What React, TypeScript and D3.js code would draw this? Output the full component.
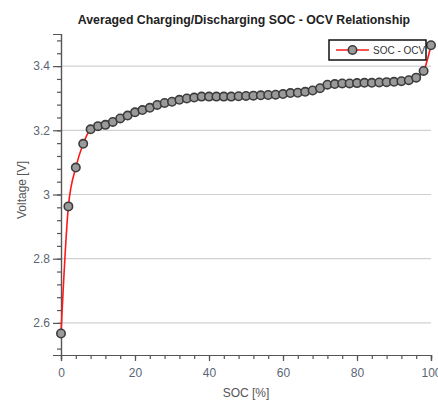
import React, { useEffect, useRef } from "react";
import * as d3 from "d3";

// SOC in %, OCV in V
const socValues = [
  0, 2, 4, 6, 8, 10, 12, 14, 16, 18, 20, 22, 24, 26, 28, 30, 32, 34, 36, 38, 40,
  42, 44, 46, 48, 50, 52, 54, 56, 58, 60, 62, 64, 66, 68, 70, 72, 74, 76, 78, 80,
  82, 84, 86, 88, 90, 92, 94, 96, 98, 100,
];
const ocvValues = [
  2.567, 2.963, 3.084, 3.158, 3.203, 3.213, 3.217, 3.226, 3.237, 3.246, 3.256,
  3.263, 3.27, 3.279, 3.285, 3.289, 3.295, 3.299, 3.302, 3.305, 3.305, 3.305,
  3.305, 3.305, 3.306, 3.307, 3.308, 3.309, 3.31, 3.311, 3.313, 3.316, 3.317,
  3.32, 3.324, 3.331, 3.342, 3.344, 3.346, 3.346, 3.347, 3.348, 3.348, 3.349,
  3.35, 3.351, 3.353, 3.356, 3.364, 3.385, 3.465,
];
const xTicks = [0, 20, 40, 60, 80, 100];
const yTicks = [2.6, 2.8, 3.0, 3.2, 3.4];
const seriesName = "SOC - OCV";
const chartTitle = "Averaged Charging/Discharging SOC - OCV Relationship";
const xLabel = "SOC [%]";
const yLabel = "Voltage [V]";

const App = () => {
  const ref = useRef<SVGSVGElement>(null);

  useEffect(() => {
    const svg = d3.select(ref.current);
    svg.selectAll("*").remove();

    const left = 61, right = 431, top = 34, bottom = 355;
    const x = d3.scaleLinear().domain([0, 100]).range([left, right]);
    const y = d3.scaleLinear().domain([2.5, 3.5]).range([bottom, top]);
    const font = "Liberation Sans, Arial, sans-serif";
    const labelColor = "#5b6675";

    // horizontal grid
    svg.append("g").selectAll("line").data(yTicks).join("line")
      .attr("x1", left).attr("x2", right)
      .attr("y1", d => y(d)).attr("y2", d => y(d))
      .attr("stroke", "#d0d0d0").attr("stroke-width", 1.2);

    // y axis
    const yAxis = svg.append("g").attr("transform", `translate(${left},0)`);
    yAxis.call(d3.axisLeft(y).tickValues(d3.range(2.52, 3.5, 0.04)).tickSize(4).tickFormat(() => ""));
    yAxis.call(g => g.append("g").call(d3.axisLeft(y).tickValues(yTicks).tickSize(8)
      .tickFormat(d => (d as number) === 3 ? "3" : d3.format(".1f")(d as number))));
    yAxis.selectAll("path.domain").attr("stroke", "#555").attr("stroke-width", 1.2);
    yAxis.selectAll("line").attr("stroke", "#555").attr("stroke-width", 1.2);
    yAxis.selectAll("text").attr("fill", labelColor).style("font-family", font)
      .style("font-size", "12px").attr("x", -11);

    // x axis
    const xAxis = svg.append("g").attr("transform", `translate(0,${bottom})`);
    xAxis.call(d3.axisBottom(x).tickValues(d3.range(0, 101, 4)).tickSize(4).tickFormat(() => ""));
    xAxis.call(g => g.append("g").call(d3.axisBottom(x).tickValues(xTicks).tickSize(6)));
    xAxis.selectAll("path.domain").attr("stroke", "#555").attr("stroke-width", 1.2);
    xAxis.selectAll("line").attr("stroke", "#555").attr("stroke-width", 1.2);
    xAxis.selectAll("text").attr("fill", labelColor).style("font-family", font)
      .style("font-size", "12px").attr("y", 13);

    const data = socValues.map((s, i) => [s, ocvValues[i]] as [number, number]);
    const line = d3.line<[number, number]>()
      .x(d => x(d[0])).y(d => y(d[1]))
      .curve(d3.curveMonotoneX);

    svg.append("path").datum(data)
      .attr("d", line)
      .attr("fill", "none").attr("stroke", "#ff1a1a").attr("stroke-width", 1.6);

    svg.append("g").selectAll("circle").data(data).join("circle")
      .attr("cx", d => x(d[0])).attr("cy", d => y(d[1]))
      .attr("r", 4.2)
      .attr("fill", "#9a9a9a").attr("stroke", "#3c3c3c").attr("stroke-width", 1.6);

    // legend
    const lg = svg.append("g").attr("transform", "translate(329,40)");
    lg.append("rect").attr("width", 97).attr("height", 20)
      .attr("fill", "#fff").attr("stroke", "#111").attr("stroke-width", 1.5);
    lg.append("line").attr("x1", 7).attr("x2", 40).attr("y1", 10).attr("y2", 10)
      .attr("stroke", "#ff1a1a").attr("stroke-width", 1.6);
    lg.append("circle").attr("cx", 23.5).attr("cy", 10).attr("r", 4.2)
      .attr("fill", "#9a9a9a").attr("stroke", "#3c3c3c").attr("stroke-width", 1.6);
    lg.append("text").attr("x", 44).attr("y", 13.5)
      .style("font-family", font).style("font-size", "10px").attr("fill", "#333")
      .text(seriesName);

    // titles
    svg.append("text").attr("x", 244).attr("y", 24).attr("text-anchor", "middle")
      .style("font-family", font).style("font-size", "12.3px").style("font-weight", "bold")
      .attr("fill", "#222").text(chartTitle);
    svg.append("text").attr("x", 246).attr("y", 397).attr("text-anchor", "middle")
      .style("font-family", font).style("font-size", "12px").attr("fill", "#555")
      .text(xLabel);
    svg.append("text").attr("transform", "translate(26,190) rotate(-90)")
      .attr("text-anchor", "middle")
      .style("font-family", font).style("font-size", "12px").attr("fill", "#555")
      .text(yLabel);
  }, []);

  return (
    <svg ref={ref} width={438} height={400}
      style={{ position: "absolute", left: 0, top: 0, background: "#fff" }} />
  );
};

export default App;
